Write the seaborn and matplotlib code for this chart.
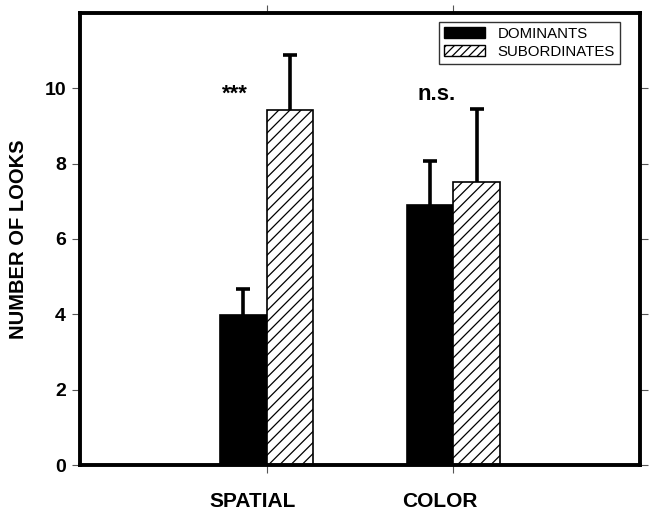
import matplotlib
matplotlib.use("Agg")
import matplotlib.pyplot as plt
import matplotlib.patches as mpatches
import matplotlib.transforms as mtransforms
import seaborn as sns
import pandas as pd

# Data
conditions = ["SPATIAL", "COLOR"]
groups = ["DOMINANTS", "SUBORDINATES"]
dominants = [3.97, 6.9]
subordinates = [9.42, 7.52]
dominants_err = [0.70, 1.18]
subordinates_err = [1.45, 1.92]
significance = ["***", "n.s."]
y_ticks = [0, 2, 4, 6, 8, 10]

df = pd.DataFrame({
    "condition": conditions * 2,
    "group": [groups[0]] * 2 + [groups[1]] * 2,
    "looks": dominants + subordinates,
})

sns.set_style("ticks")
plt.rcParams["font.family"] = ["Liberation Sans", "DejaVu Sans"]
plt.rcParams["hatch.linewidth"] = 0.9
plt.rcParams["text.color"] = "black"

fig = plt.figure(figsize=(6.5, 5.11), dpi=100)
ax = fig.add_axes([0.123, 0.09, 0.862, 0.885])

sns.barplot(data=df, x="condition", y="looks", hue="group", order=conditions,
            hue_order=groups, width=0.5, gap=0, errorbar=None,
            palette=["black", "white"], edgecolor="black", linewidth=1.2,
            legend=False, ax=ax)

# Style the subordinate bars with hatching
n = len(conditions)
for i, bar in enumerate(ax.patches[:2 * n]):
    if i >= n:
        bar.set_facecolor("white")
        bar.set_hatch("///")
        bar.set_edgecolor("black")

# Upper-only error bars drawn from the same values as the bars
for i, bar in enumerate(ax.patches[:2 * n]):
    vals = dominants if i < n else subordinates
    errs = dominants_err if i < n else subordinates_err
    k = i % n
    xc = bar.get_x() + bar.get_width() / 2
    eb = ax.errorbar([xc], [vals[k]], yerr=[[0], [errs[k]]], fmt="none",
                     ecolor="black", elinewidth=2.6, capsize=5, capthick=2.6,
                     zorder=1)
    # hide the cap sitting on the bar top
    eb[1][0].set_visible(False)

# Significance markers
sig_x = [-0.17, 0.91]
sig_y = [9.70, 9.68]
sig_size = [16, 16]
for k, label in enumerate(significance):
    ax.text(sig_x[k], sig_y[k], label, ha="center", va="baseline",
            fontsize=sig_size[k], fontweight="bold", color="black")

ax.set_xlim(-1.0, 2.0)
ax.set_ylim(0, 12)
ax.set_yticks(y_ticks)
ax.set_yticklabels([str(t) for t in y_ticks], fontsize=14, fontweight="bold",
                   color="black")
ax.set_xticks(range(n))
ax.set_xticklabels([])
ax.set_xlabel("")
ax.set_ylabel("NUMBER OF LOOKS", fontsize=14.5, fontweight="bold",
              labelpad=12, color="black")

# category labels, set slightly left of their ticks
cat_tf = ax.get_xaxis_transform() + mtransforms.ScaledTranslation(
    -0.14, 0, fig.dpi_scale_trans)
for i, name in enumerate(conditions):
    ax.text(i, -0.06, name, transform=cat_tf, ha="center", va="top",
            fontsize=15, fontweight="bold", color="black", clip_on=False)

for side in ["left", "right", "top", "bottom"]:
    ax.spines[side].set_visible(True)
    ax.spines[side].set_linewidth(2.8)
    ax.spines[side].set_color("black")

ax.tick_params(axis="both", which="major", direction="out", length=6,
               width=0.8, color="#555555", top=True, right=True,
               labeltop=False, labelright=False)
ax.tick_params(axis="y", pad=4)

handles = [
    mpatches.Patch(facecolor="black", edgecolor="black", label=groups[0]),
    mpatches.Patch(facecolor="white", edgecolor="black", hatch="////", label=groups[1]),
]
leg = ax.legend(handles=handles, loc="upper right", bbox_to_anchor=(0.972, 0.99),
                fontsize=10.8, frameon=True, fancybox=False, edgecolor="black",
                borderpad=0.35, handlelength=2.7, handleheight=0.75,
                handletextpad=0.85, labelspacing=0.25, borderaxespad=0.3)
leg.get_frame().set_linewidth(1.0)
for t in leg.get_texts():
    t.set_color("black")

fig.savefig("out.png", dpi=100)
